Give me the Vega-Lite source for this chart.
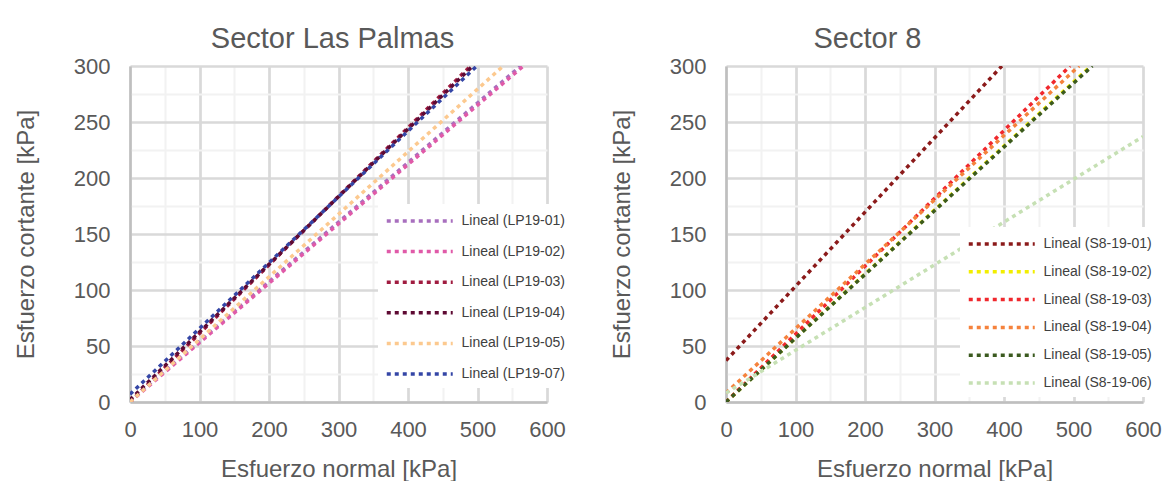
{
  "$schema": "https://vega.github.io/schema/vega-lite/v6.json",
  "background": "white",
  "padding": {"left": 14, "top": 25, "right": 0, "bottom": 0},
  "spacing": 37,
  "config": {
    "font": "Liberation Sans",
    "view": {"stroke": null},
    "title": {"fontSize": 29, "fontWeight": "normal", "color": "#595959", "anchor": "middle", "frame": "group", "offset": 1},
    "axis": {
      "labelFontSize": 22, "labelColor": "#595959", "titleFontSize": 24, "titleFontWeight": "normal", "titleColor": "#595959",
      "ticks": false, "tickSize": 0, "domainColor": "#bfbfbf", "domainWidth": 2.5, "labelOverlap": false, "labelFlush": false
    },
    "legend": {
      "symbolType": "M-1,0H7", "symbolStrokeWidth": 3.5, "symbolDash": [4, 4], "symbolSize": 272, "symbolOpacity": 1,
      "labelFontSize": 14, "labelColor": "#404040", "labelOffset": 56.5, "fillColor": "white", "padding": 7, "labelLimit": 300
    }
  },
  "datasets": {
    "lp": [
      {"serie": "Lineal (LP19-01)", "x": 0, "y": 1}, {"serie": "Lineal (LP19-01)", "x": 562, "y": 300},
      {"serie": "Lineal (LP19-02)", "x": 0, "y": 0}, {"serie": "Lineal (LP19-02)", "x": 566, "y": 300},
      {"serie": "Lineal (LP19-03)", "x": 0, "y": 0}, {"serie": "Lineal (LP19-03)", "x": 490, "y": 300},
      {"serie": "Lineal (LP19-04)", "x": 0, "y": 2}, {"serie": "Lineal (LP19-04)", "x": 493, "y": 300},
      {"serie": "Lineal (LP19-05)", "x": 0, "y": 0}, {"serie": "Lineal (LP19-05)", "x": 537, "y": 300},
      {"serie": "Lineal (LP19-07)", "x": 0, "y": 7}, {"serie": "Lineal (LP19-07)", "x": 499, "y": 300}
    ],
    "s8": [
      {"serie": "Lineal (S8-19-01)", "x": 0, "y": 37}, {"serie": "Lineal (S8-19-01)", "x": 397, "y": 300},
      {"serie": "Lineal (S8-19-02)", "x": 0, "y": 0}, {"serie": "Lineal (S8-19-02)", "x": 525, "y": 300},
      {"serie": "Lineal (S8-19-03)", "x": 0, "y": 0}, {"serie": "Lineal (S8-19-03)", "x": 495, "y": 300},
      {"serie": "Lineal (S8-19-04)", "x": 0, "y": 8}, {"serie": "Lineal (S8-19-04)", "x": 508, "y": 300},
      {"serie": "Lineal (S8-19-05)", "x": 0, "y": 0}, {"serie": "Lineal (S8-19-05)", "x": 527, "y": 300},
      {"serie": "Lineal (S8-19-06)", "x": 0, "y": 8}, {"serie": "Lineal (S8-19-06)", "x": 600, "y": 237}
    ]
  },
  "resolve": {"scale": {"color": "independent"}, "legend": {"color": "independent"}},
  "hconcat": [
    {
      "width": 417, "height": 336,
      "title": {"text": "Sector Las Palmas", "dx": -6},
      "data": {"name": "lp"},
      "mark": {"type": "line", "strokeWidth": 3.5, "strokeDash": [4, 4], "strokeCap": "butt", "clip": true},
      "encoding": {
        "x": {"field": "x", "type": "quantitative", "scale": {"domain": [0, 600], "nice": false},
          "axis": {"title": "Esfuerzo normal [kPa]", "values": [0, 50, 100, 150, 200, 250, 300, 350, 400, 450, 500, 550, 600],
            "labelExpr": "datum.value % 100 === 0 ? datum.label : ''", "labelPadding": 17, "titlePadding": 17,
            "gridColor": {"condition": {"test": "datum.value % 100 === 0", "value": "#d9d9d9"}, "value": "#f2f2f2"},
            "gridWidth": {"condition": {"test": "datum.value % 100 === 0", "value": 2.7}, "value": 2}}},
        "y": {"field": "y", "type": "quantitative", "scale": {"domain": [0, 300], "nice": false},
          "axis": {"title": "Esfuerzo cortante [kPa]", "values": [0, 25, 50, 75, 100, 125, 150, 175, 200, 225, 250, 275, 300],
            "labelExpr": "datum.value % 50 === 0 ? datum.label : ''", "labelPadding": 20, "titlePadding": 35,
            "gridColor": {"condition": {"test": "datum.value % 50 === 0", "value": "#d9d9d9"}, "value": "#f2f2f2"},
            "gridWidth": {"condition": {"test": "datum.value % 50 === 0", "value": 2.7}, "value": 2}}},
        "color": {"field": "serie", "type": "nominal",
          "scale": {"domain": ["Lineal (LP19-01)", "Lineal (LP19-02)", "Lineal (LP19-03)", "Lineal (LP19-04)", "Lineal (LP19-05)", "Lineal (LP19-07)"],
            "range": ["#a86fbe", "#e05aa8", "#a01c40", "#5e0a33", "#fcc98f", "#3446a6"]},
          "legend": {"orient": "none", "legendX": 248, "legendY": 138, "title": null, "rowPadding": 13.6}}
      }
    },
    {
      "width": 417, "height": 336,
      "title": {"text": "Sector 8", "dx": -67},
      "data": {"name": "s8"},
      "mark": {"type": "line", "strokeWidth": 3.5, "strokeDash": [4, 4], "strokeCap": "butt", "clip": true},
      "encoding": {
        "x": {"field": "x", "type": "quantitative", "scale": {"domain": [0, 600], "nice": false},
          "axis": {"title": "Esfuerzo normal [kPa]", "values": [0, 50, 100, 150, 200, 250, 300, 350, 400, 450, 500, 550, 600],
            "labelExpr": "datum.value % 100 === 0 ? datum.label : ''", "labelPadding": 17, "titlePadding": 17,
            "gridColor": {"condition": {"test": "datum.value % 100 === 0", "value": "#d9d9d9"}, "value": "#f2f2f2"},
            "gridWidth": {"condition": {"test": "datum.value % 100 === 0", "value": 2.7}, "value": 2}}},
        "y": {"field": "y", "type": "quantitative", "scale": {"domain": [0, 300], "nice": false},
          "axis": {"title": "Esfuerzo cortante [kPa]", "values": [0, 25, 50, 75, 100, 125, 150, 175, 200, 225, 250, 275, 300],
            "labelExpr": "datum.value % 50 === 0 ? datum.label : ''", "labelPadding": 20, "titlePadding": 35,
            "gridColor": {"condition": {"test": "datum.value % 50 === 0", "value": "#d9d9d9"}, "value": "#f2f2f2"},
            "gridWidth": {"condition": {"test": "datum.value % 50 === 0", "value": 2.7}, "value": 2}}},
        "color": {"field": "serie", "type": "nominal",
          "scale": {"domain": ["Lineal (S8-19-01)", "Lineal (S8-19-02)", "Lineal (S8-19-03)", "Lineal (S8-19-04)", "Lineal (S8-19-05)", "Lineal (S8-19-06)"],
            "range": ["#8b1a1a", "#f2ee00", "#f0282d", "#f5823c", "#3b5a1f", "#c6e0b4"]},
          "legend": {"orient": "none", "legendX": 234, "legendY": 161, "title": null, "rowPadding": 10.8}}
      }
    }
  ]
}
